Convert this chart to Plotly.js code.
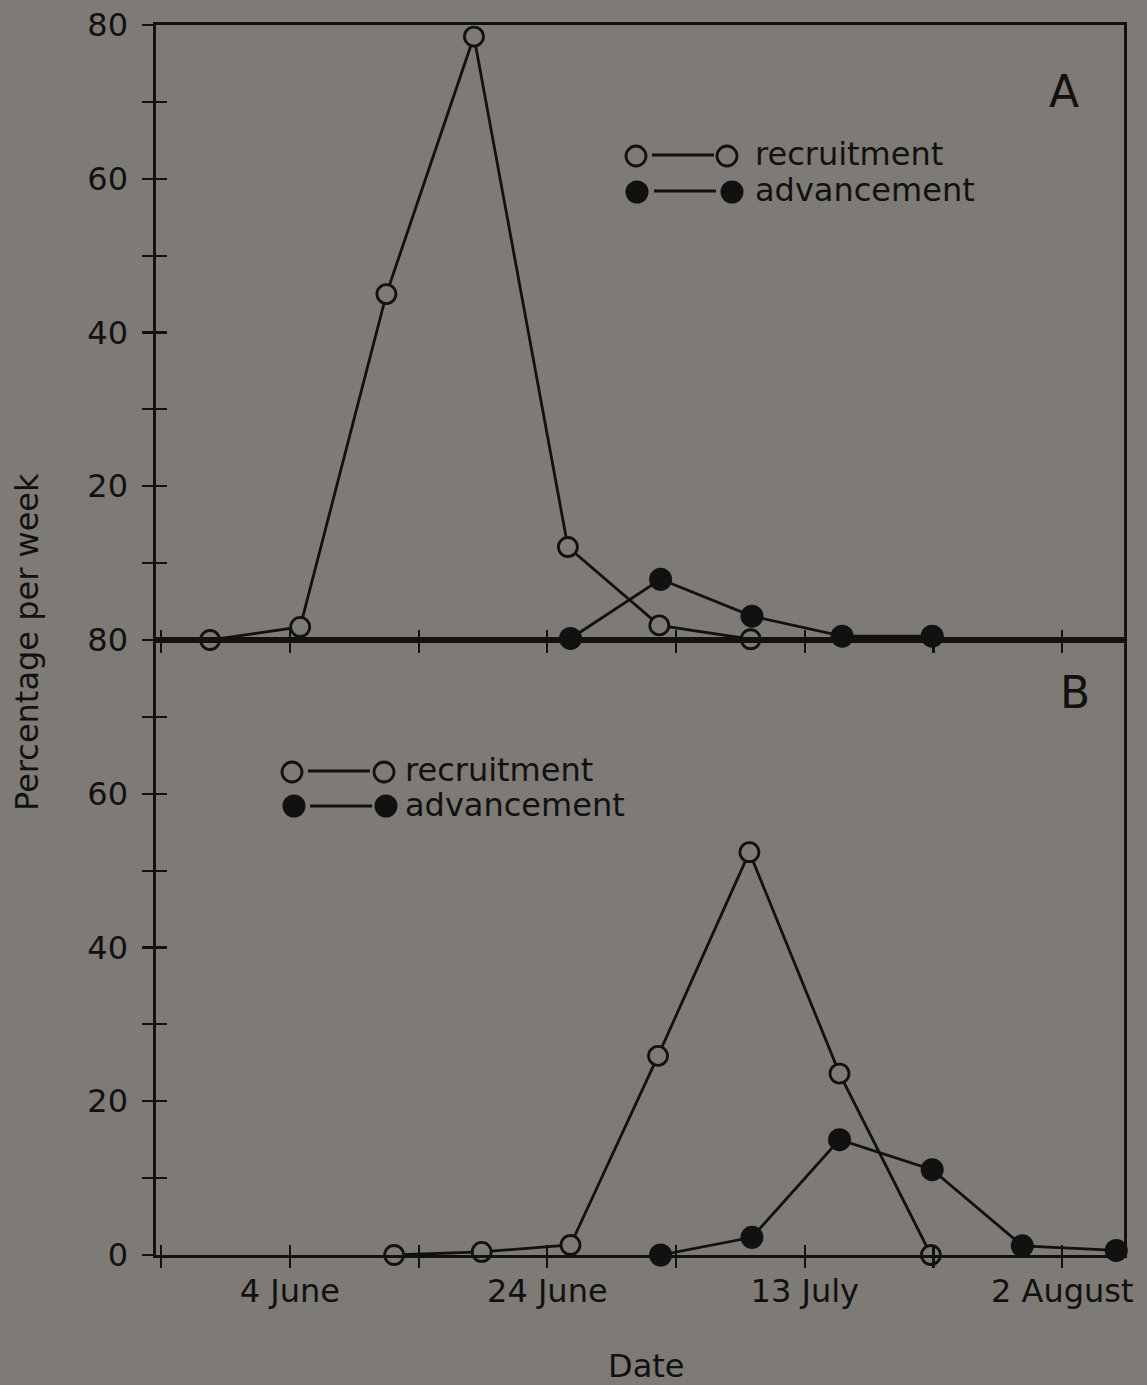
<!DOCTYPE html>
<html>
<head>
<meta charset="utf-8">
<script src="https://cdn.plot.ly/plotly-3.0.1.min.js"></script>
<style>
  html, body { margin: 0; padding: 0; background: rgb(126,122,117); }
  #chart { width: 1147px; height: 1385px; }
</style>
</head>
<body>
<div id="chart"></div>
<script>
// ---- Data (x = day of year; ticks every 10 days) ----
// Panel A
const recA_day = [148.8, 155.8, 162.5, 169.3, 176.6, 183.7, 190.8];
const recA_val = [0, 1.7, 45, 78.5, 12.1, 1.9, 0.1];
const advA_day = [176.8, 183.8, 190.9, 197.9, 204.9];
const advA_val = [0.2, 7.9, 3.1, 0.5, 0.5];
// Panel B
const recB_day = [163.1, 169.9, 176.8, 183.6, 190.7, 197.7, 204.8];
const recB_val = [0, 0.4, 1.3, 25.9, 52.4, 23.6, 0];
const advB_day = [183.8, 190.9, 197.7, 204.9, 211.9, 219.2];
const advB_val = [0, 2.3, 15.0, 11.1, 1.2, 0.6];

// Tick positions / labels
const xTickVals = [145, 155, 165, 175, 185, 195, 205, 215];
const xTickText = ['', '4 June', '', '24 June', '', '13 July', '', '2 August'];
const yTickVals = [0, 10, 20, 30, 40, 50, 60, 70, 80];
const yTickTextA = ['', '', '20', '', '40', '', '60', '', '80'];
const yTickTextB = ['0', '', '20', '', '40', '', '60', '', '80'];
const legendLabels = ['recruitment', 'advancement'];
const panelLabels = ['A', 'B'];

const bg = 'rgb(126,122,117)';
const ink = '#111111';
const FONT = 'DejaVu Sans, Verdana, sans-serif';

function openTrace(x, y, xa, ya) {
  return {x: x, y: y, xaxis: xa, yaxis: ya, type: 'scatter', mode: 'lines+markers',
    line: {color: ink, width: 2.8},
    marker: {symbol: 'circle', size: 19, color: bg, line: {color: ink, width: 2.8}},
    cliponaxis: false, showlegend: false, hoverinfo: 'skip'};
}
function filledTrace(x, y, xa, ya) {
  return {x: x, y: y, xaxis: xa, yaxis: ya, type: 'scatter', mode: 'lines+markers',
    line: {color: ink, width: 2.8},
    marker: {symbol: 'circle', size: 23, color: ink, line: {color: ink, width: 0}},
    cliponaxis: false, showlegend: false, hoverinfo: 'skip'};
}

const traces = [
  filledTrace(advA_day, advA_val, 'x', 'y'),
  openTrace(recA_day, recA_val, 'x', 'y'),
  filledTrace(advB_day, advB_val, 'x2', 'y2'),
  openTrace(recB_day, recB_val, 'x2', 'y2'),
  // empty helpers so overlay axes (crossing ticks) get drawn
  {x: [], y: [], xaxis: 'x3', yaxis: 'y3', type: 'scatter', showlegend: false},
  {x: [], y: [], xaxis: 'x4', yaxis: 'y4', type: 'scatter', showlegend: false}
];

const XR = [144.6, 219.8];
const YR = [0, 80];

const baseX = {range: XR, showgrid: false, zeroline: false, showline: true, linecolor: ink, linewidth: 2.6,
  mirror: true, ticks: 'outside', ticklen: 10, tickwidth: 2.2, tickcolor: ink,
  tickmode: 'array', tickvals: xTickVals, layer: 'above traces', fixedrange: true,
  ticklabelstandoff: -4,
  tickfont: {family: FONT, size: 32, color: ink}};
const overX = {range: XR, showgrid: false, zeroline: false, showline: false,
  ticks: 'inside', ticklen: 10, tickwidth: 2.2, tickcolor: ink,
  tickmode: 'array', tickvals: xTickVals, showticklabels: false, layer: 'above traces', fixedrange: true};
const baseY = {range: YR, showgrid: false, zeroline: false, showline: true, linecolor: ink, linewidth: 2.6,
  mirror: true, ticks: 'outside', ticklen: 11, tickwidth: 2.2, tickcolor: ink,
  tickmode: 'array', tickvals: yTickVals, layer: 'above traces', fixedrange: true,
  ticklabelstandoff: 8, tickfont: {family: FONT, size: 32, color: ink}};
const overY = {range: YR, showgrid: false, zeroline: false, showline: false,
  ticks: 'inside', ticklen: 11, tickwidth: 2.2, tickcolor: ink,
  tickmode: 'array', tickvals: yTickVals, showticklabels: false, layer: 'above traces', fixedrange: true};

// Plot area in pixels
const L = 156, R = 23, T = 25, B = 130, W = 1147, H = 1385;
const PW = W - L - R, PH = H - T - B;
const px = v => (v - L) / PW;
const py = v => (H - B - v) / PH;

// Legend drawing helpers (paper coordinates from pixel positions)
function circ(cx, cy, r, filled) {
  return {type: 'circle', xref: 'paper', yref: 'paper', xsizemode: 'pixel', ysizemode: 'pixel',
    xanchor: px(cx), yanchor: py(cy), x0: -r, x1: r, y0: -r, y1: r,
    line: {color: ink, width: filled ? 0 : 2.8}, fillcolor: filled ? ink : bg};
}
function seg(x0, x1, y) {
  return {type: 'line', xref: 'paper', yref: 'paper', x0: px(x0), x1: px(x1), y0: py(y), y1: py(y),
    line: {color: ink, width: 2.8}};
}
const shapes = [
  seg(652, 714, 155), circ(636, 156, 10, false), circ(727, 156, 10, false),
  seg(654, 716, 191), circ(637, 192, 11.5, true), circ(732, 192, 11.5, true),
  seg(308, 370, 771), circ(292, 772, 10, false), circ(384, 772, 10, false),
  seg(310, 372, 806), circ(294, 806, 11.5, true), circ(386, 806, 11.5, true)
];

function txt(text, x, y, size, anchor, extra) {
  return Object.assign({text: text, xref: 'paper', yref: 'paper', x: px(x), y: py(y),
    xanchor: anchor || 'left', yanchor: 'middle', showarrow: false,
    font: {family: FONT, size: size, color: ink}}, extra || {});
}
const annotations = [
  txt(legendLabels[0], 753, 154, 32),
  txt(legendLabels[1], 753, 190, 32),
  txt(legendLabels[0], 403, 770, 32),
  txt(legendLabels[1], 403, 805, 32),
  txt(panelLabels[0], 1064, 92, 44, 'center'),
  txt(panelLabels[1], 1075, 692, 44, 'center'),
  txt('Date', 646, 1366, 32, 'center'),
  txt('Percentage per week', 27, 642, 32, 'center', {textangle: -90})
];

const layout = {
  width: W, height: H,
  margin: {l: L, r: R, t: T, b: B, pad: 0},
  paper_bgcolor: bg, plot_bgcolor: bg,
  showlegend: false,
  xaxis: Object.assign({}, baseX, {anchor: 'y', domain: [0, 1], showticklabels: false}),
  yaxis: Object.assign({}, baseY, {anchor: 'x', domain: [0.5, 1], ticktext: yTickTextA}),
  xaxis2: Object.assign({}, baseX, {anchor: 'y2', domain: [0, 1], ticktext: xTickText}),
  yaxis2: Object.assign({}, baseY, {anchor: 'x2', domain: [0, 0.5], ticktext: yTickTextB}),
  xaxis3: Object.assign({}, overX, {overlaying: 'x', anchor: 'y'}),
  yaxis3: Object.assign({}, overY, {overlaying: 'y', anchor: 'x'}),
  xaxis4: Object.assign({}, overX, {overlaying: 'x2', anchor: 'y2'}),
  yaxis4: Object.assign({}, overY, {overlaying: 'y2', anchor: 'x2'}),
  shapes: shapes,
  annotations: annotations,
  font: {family: FONT, color: ink}
};

Plotly.newPlot('chart', traces, layout, {staticPlot: true, displayModeBar: false});
</script>
</body>
</html>
